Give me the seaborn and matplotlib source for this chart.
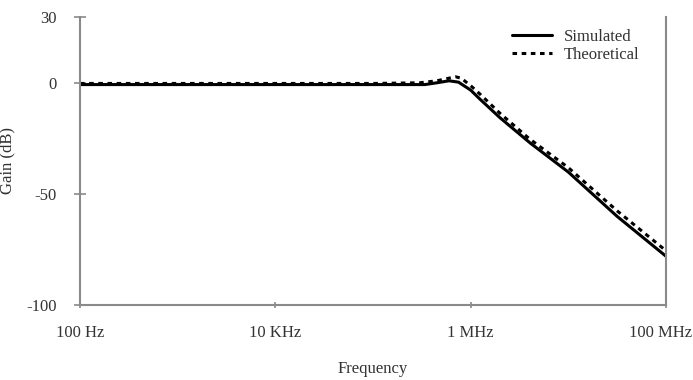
import matplotlib
matplotlib.use("Agg")
import matplotlib.pyplot as plt
import matplotlib.transforms as mtransforms
import seaborn as sns
import numpy as np
import pandas as pd

# Data
freq_sim = [1e2, 1e3, 1e4, 1e5, 3.4e5, 4.5e5, 6e5, 7.5e5, 1e6, 1.26e6, 2e6, 3e6, 4.1e6, 1e7, 3.16e7, 1e8]
gain_sim = [-0.5, -0.5, -0.5, -0.5, -0.5, 0.3, 1.2, 0.6, -3.0, -7.3, -15.5, -22.0, -27.0, -40.0, -60.0, -78.0]

freq_th = [1e2, 1e3, 1e4, 1e5, 3e5, 4.5e5, 6e5, 7e5, 8e5, 1e6, 1.26e6, 2e6, 4e6, 1e7, 3.16e7, 1e8]
gain_th = [0.0, 0.0, 0.0, 0.0, 0.3, 1.2, 2.4, 3.0, 2.4, -1.0, -5.0, -13.5, -25.0, -38.0, -57.5, -75.5]

xtick_vals = [1e2, 1e4, 1e6, 1e8]
xtick_labels = ["100 Hz", "10 KHz", "1 MHz", "100 MHz"]
ytick_vals = [-100, -50, 0, 30]

sns.set_theme(style="white")
plt.rcParams['font.family'] = ['Liberation Serif', 'DejaVu Serif']
plt.rcParams['axes.unicode_minus'] = False

FS = 12

fig = plt.figure(figsize=(6.93, 3.80), dpi=100)
ax = fig.add_axes([80/693, 1-305/380, 586/693, 288/380])

df_sim = pd.DataFrame({"f": freq_sim, "g": gain_sim})
df_th = pd.DataFrame({"f": freq_th, "g": gain_th})

sns.lineplot(data=df_sim, x="f", y="g", ax=ax, color="black", lw=2.2,
             label="Simulated")
sns.lineplot(data=df_th, x="f", y="g", ax=ax, color="black", lw=2.2,
             linestyle=(0, (1.5, 1.5)), label="Theoretical")

ax.set_xscale("log")
ax.set_xlim(1e2, 1e8)
ax.set_ylim(-100, 30)
ax.set_xticks(xtick_vals)
ax.set_xticklabels(xtick_labels)
ax.xaxis.set_minor_locator(matplotlib.ticker.NullLocator())
ax.set_yticks(ytick_vals)

for s in ["left", "bottom", "right"]:
    ax.spines[s].set_visible(True)
    ax.spines[s].set_color("#8a8a8a")
    ax.spines[s].set_linewidth(1.5)
ax.spines["top"].set_visible(False)

ax.tick_params(axis="y", direction="inout", length=8, width=1.2, color="#8a8a8a",
               labelsize=FS, labelcolor="#333333", pad=13, left=True)
ax.tick_params(axis="x", direction="inout", length=5, width=1.2, color="#8a8a8a",
               labelsize=FS, labelcolor="#333333", pad=12, bottom=True)

# nudge the last x tick label so it stays inside the canvas
last = ax.get_xticklabels()[-1]
last.set_transform(last.get_transform() +
                   mtransforms.ScaledTranslation(-5/100, 0, fig.dpi_scale_trans))

ax.set_xlabel("Frequency", fontsize=FS, color="#333333", labelpad=14)
ax.set_ylabel("Gain (dB)", fontsize=FS, color="#333333")
ax.yaxis.set_label_coords(-0.111, 0.5)

leg = ax.legend(loc="upper right", frameon=False, fontsize=FS, handlelength=2.4,
                borderaxespad=0.3, labelspacing=0.15, handletextpad=0.7,
                bbox_to_anchor=(0.975, 1.0))
for t in leg.get_texts():
    t.set_color("#333333")

fig.savefig("out.png", dpi=100)
